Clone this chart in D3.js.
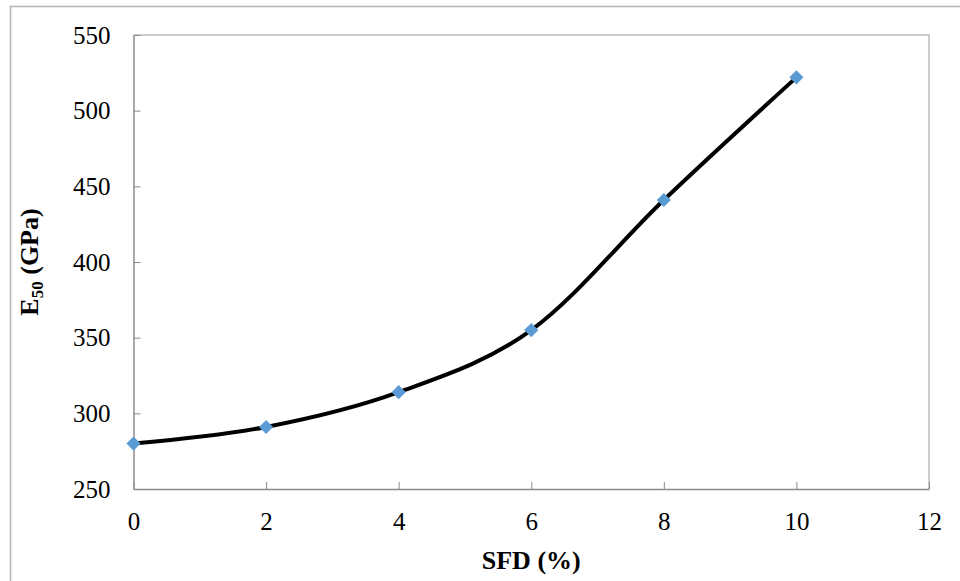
<!DOCTYPE html>
<html>
<head>
<meta charset="utf-8">
<script src="https://cdn.jsdelivr.net/npm/d3@7"></script>
<style>
  html, body { margin: 0; padding: 0; background: #fff; }
  svg { display: block; }
  text { font-family: "Liberation Serif", "Times New Roman", serif; fill: #000; }
</style>
</head>
<body>
<svg id="chart" width="960" height="581"></svg>
<script>
// SFD (%) against secant modulus E50 (GPa)
const sfd = [0, 2, 4, 6, 8, 10];
const e50 = [280, 291, 314, 355, 441, 522];
const xTicks = [0, 2, 4, 6, 8, 10, 12];
const yTicks = [250, 300, 350, 400, 450, 500, 550];

const svg = d3.select("#chart");
const plot = { left: 133.5, right: 929, top: 35, bottom: 489 };

const x = d3.scaleLinear().domain([0, 12]).range([plot.left, plot.right]);
const y = d3.scaleLinear().domain([250, 550]).range([plot.bottom, plot.top]);

// outer chart frame
svg.append("rect")
  .attr("x", 10.5).attr("y", 6.5)
  .attr("width", 980).attr("height", 600)
  .attr("fill", "none").attr("stroke", "#b4b4b4").attr("stroke-width", 1.5);

// plot area frame (top and right)
svg.append("path")
  .attr("d", `M${plot.left},${plot.top}H${plot.right}V${plot.bottom}`)
  .attr("fill", "none").attr("stroke", "#bcbcbc").attr("stroke-width", 1.5);

// x axis with inward ticks
const gx = svg.append("g")
  .attr("transform", `translate(0,${plot.bottom})`)
  .call(d3.axisBottom(x).tickValues(xTicks).tickSizeInner(-7).tickSizeOuter(0).tickPadding(23));
gx.select(".domain").attr("stroke", "#8c8c8c").attr("stroke-width", 1.5);
gx.selectAll(".tick line").attr("stroke", "#8c8c8c");
gx.selectAll(".tick text").style("font-size", "25px").attr("fill", "#000");

// y axis with inward ticks
const gy = svg.append("g")
  .attr("transform", `translate(${plot.left},0)`)
  .call(d3.axisLeft(y).tickValues(yTicks).tickSizeInner(-7).tickSizeOuter(0).tickPadding(23));
gy.select(".domain").attr("stroke", "#8c8c8c").attr("stroke-width", 1.5);
gy.selectAll(".tick line").attr("stroke", "#8c8c8c");
gy.selectAll(".tick text").style("font-size", "25px").attr("fill", "#000");

// smoothed series line
const pts = sfd.map((v, i) => [v, e50[i]]);
const line = d3.line()
  .x(d => x(d[0])).y(d => y(d[1]))
  .curve(d3.curveCardinal.tension(0));
svg.append("path")
  .datum(pts)
  .attr("d", line)
  .attr("fill", "none").attr("stroke", "#000").attr("stroke-width", 4)
  .attr("stroke-linejoin", "round");

// diamond markers
svg.selectAll(".marker")
  .data(pts)
  .enter().append("rect")
  .attr("class", "marker")
  .attr("x", -5).attr("y", -5).attr("width", 10).attr("height", 10)
  .attr("transform", d => `translate(${x(d[0])},${y(d[1])}) rotate(45)`)
  .attr("fill", "#5b9bd5");

// axis titles
svg.append("text")
  .attr("x", (plot.left + plot.right) / 2).attr("y", 569)
  .attr("text-anchor", "middle")
  .style("font-size", "26px").style("font-weight", "bold")
  .text("SFD (%)");

const yt = svg.append("text")
  .attr("transform", `translate(38,${(plot.top + plot.bottom) / 2}) rotate(-90)`)
  .attr("text-anchor", "middle")
  .style("font-size", "26px").style("font-weight", "bold");
yt.append("tspan").text("E");
yt.append("tspan").attr("dy", 5).style("font-size", "17px").text("50");
yt.append("tspan").attr("dy", -5).text(" (GPa)");
</script>
</body>
</html>
